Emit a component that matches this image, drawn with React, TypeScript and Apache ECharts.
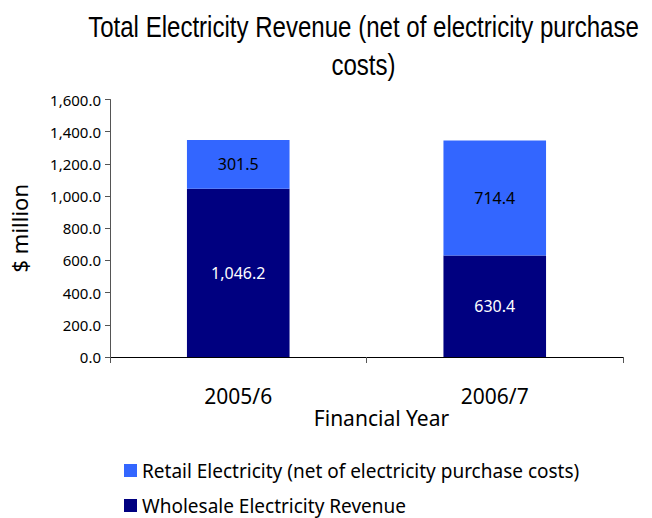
import React, { useEffect, useRef } from "react";
import * as echarts from "echarts";

const categories = ["2005/6", "2006/7"];
const wholesale = [1046.2, 630.4];
const retail = [301.5, 714.4];
const yTicks = { min: 0, max: 1600, interval: 200 };
const seriesNames = ["Retail Electricity (net of electricity purchase costs)", "Wholesale Electricity Revenue"];
const titleLines = ["Total Electricity Revenue (net of electricity purchase", "costs)"];

const FONT = "'Noto Sans', sans-serif";
const TITLE_FONT = "29px 'Liberation Sans', Arial, sans-serif";

const fmt = (v: number) =>
  v.toLocaleString("en-US", { minimumFractionDigits: 1, maximumFractionDigits: 1 });

export default function App() {
  const ref = useRef<HTMLDivElement>(null);
  useEffect(() => {
    if (!ref.current) return;
    const chart = echarts.init(ref.current, null, { renderer: "svg" });
    const legendText = { fontFamily: FONT, fontSize: 19, fontWeight: "normal", color: "#000" };
    chart.setOption({
      animation: false,
      backgroundColor: "#ffffff",
      graphic: titleLines.map((t, i) => ({
        type: "text",
        x: 363.5,
        y: 27.5 + i * 38,
        scaleX: 0.83,
        style: {
          text: t,
          font: TITLE_FONT,
          fill: "#000",
          textAlign: "center",
          textVerticalAlign: "middle",
        },
      })),
      legend: [
        {
          orient: "vertical",
          left: 124,
          top: 461,
          padding: 0,
          itemWidth: 13,
          itemHeight: 13,
          icon: "rect",
          data: [seriesNames[0]],
          textStyle: legendText,
        },
        {
          orient: "vertical",
          left: 124,
          top: 496,
          padding: 0,
          itemWidth: 13,
          itemHeight: 13,
          icon: "rect",
          data: [seriesNames[1]],
          textStyle: legendText,
        },
      ],
      grid: { left: 107, right: 29, top: 99.5, bottom: 161, containLabel: false },
      xAxis: {
        type: "category",
        data: categories,
        name: "Financial Year",
        nameLocation: "middle",
        nameGap: 50,
        nameTextStyle: { fontFamily: FONT, fontSize: 21, color: "#000", padding: [0, 0, 0, 30] },
        axisLine: { lineStyle: { color: "#000", width: 1 } },
        axisTick: { show: true, alignWithLabel: false, length: 6, lineStyle: { color: "#555" } },
        axisLabel: { fontFamily: FONT, fontSize: 21, color: "#000", margin: 28 },
      },
      yAxis: {
        type: "value",
        min: yTicks.min,
        max: yTicks.max,
        interval: yTicks.interval,
        name: "$ million",
        nameLocation: "middle",
        nameGap: 80,
        nameRotate: 90,
        nameTextStyle: { fontFamily: FONT, fontSize: 22, color: "#000" },
        axisLine: { show: true, lineStyle: { color: "#555", width: 1 } },
        axisTick: { show: true, length: 5, lineStyle: { color: "#555" } },
        splitLine: { show: false },
        axisLabel: {
          fontFamily: FONT,
          fontSize: 15,
          color: "#000",
          margin: 9,
          formatter: (v: number) => fmt(v),
        },
      },
      series: [
        {
          name: seriesNames[1],
          type: "bar",
          stack: "total",
          data: wholesale,
          barWidth: "40%",
          itemStyle: { color: "#000080" },
          label: {
            show: true,
            position: "inside",
            fontFamily: FONT,
            fontSize: 16,
            color: "#fff",
            formatter: (p: any) => fmt(p.value),
          },
        },
        {
          name: seriesNames[0],
          type: "bar",
          stack: "total",
          data: retail,
          barWidth: "40%",
          itemStyle: { color: "#3366FF" },
          label: {
            show: true,
            position: "inside",
            fontFamily: FONT,
            fontSize: 16,
            color: "#000",
            formatter: (p: any) => fmt(p.value),
          },
        },
      ],
    });
    return () => chart.dispose();
  }, []);
  return <div ref={ref} style={{ width: 652, height: 518, position: "absolute", left: 0, top: 0 }} />;
}
